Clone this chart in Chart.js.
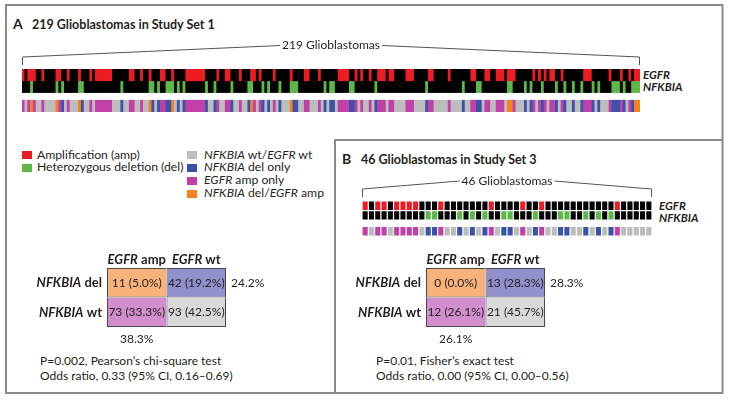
<!DOCTYPE html>
<html>
<head>
<meta charset="utf-8">
<script src="https://cdn.jsdelivr.net/npm/chart.js@4.4.0/dist/chart.umd.min.js"></script>
<style>
  body { margin: 0; background: #fff; font-family: Lato, sans-serif; }
  #page { position: relative; width: 729px; height: 400px; overflow: hidden; }
  canvas { position: absolute; }
  svg { position: absolute; left: 0; top: 0; }
  svg text { fill: #231f20; font-family: Lato, sans-serif; }
</style>
</head>
<body>
<div id="page">
<svg width="729" height="400">
  <rect x="6" y="5" width="716.5" height="388" fill="none" stroke="#8a8a8a" stroke-width="2"/>
  <path d="M335 393 V140 H722" fill="none" stroke="#8a8a8a" stroke-width="2"/>

  <text x="13" y="28.5" font-size="14" font-weight="700">A</text>
  <text x="32" y="28.5" font-size="12.5" font-weight="700">219 Glioblastomas in Study Set 1</text>
  <text x="342" y="163.5" font-size="14" font-weight="700">B</text>
  <text x="361" y="163.5" font-size="12.5" font-weight="700">46 Glioblastomas in Study Set 3</text>

  <g font-size="11.5" font-weight="700" font-style="italic">
    <text x="643" y="78.5">EGFR</text>
    <text x="643" y="91">NFKBIA</text>
    <text x="659" y="210">EGFR</text>
    <text x="659" y="221.7">NFKBIA</text>
  </g>

  <g font-size="12.2">
    <rect x="22" y="151" width="10" height="8" fill="#ed1c24"/>
    <text x="37" y="158.5">Amplification (amp)</text>
    <rect x="22" y="164" width="10" height="8" fill="#5cb947"/>
    <text x="37" y="171.3">Heterozygous deletion (del)</text>

    <rect x="187" y="151" width="10" height="8" fill="#bdbdbd"/>
    <text x="204" y="158.5"><tspan font-style="italic">NFKBIA</tspan> wt/<tspan font-style="italic">EGFR</tspan> wt</text>
    <rect x="187" y="164" width="10" height="8" fill="#3a53a8"/>
    <text x="204" y="171.3"><tspan font-style="italic">NFKBIA</tspan> del only</text>
    <rect x="187" y="177" width="10" height="8" fill="#c040a8"/>
    <text x="204" y="184.3"><tspan font-style="italic">EGFR</tspan> amp only</text>
    <rect x="187" y="190" width="10" height="8" fill="#f58220"/>
    <text x="204" y="197.3"><tspan font-style="italic">NFKBIA</tspan> del/<tspan font-style="italic">EGFR</tspan> amp</text>
  </g>
  <g font-size="12">
    <text x="40" y="365">P=0.002, Pearson’s chi-square test</text>
    <text x="40" y="380">Odds ratio, 0.33 (95% CI, 0.16–0.69)</text>
    <text x="376" y="365">P=0.01, Fisher’s exact test</text>
    <text x="376" y="380">Odds ratio, 0.00 (95% CI, 0.00–0.56)</text>
  </g>
</svg>
<canvas id="stripA" width="618" height="74" style="left:22px;top:38px"></canvas>
<canvas id="stripB" width="300" height="68" style="left:357px;top:173px"></canvas>
<canvas id="tableA" width="240" height="100" style="left:30px;top:248px"></canvas>
<canvas id="tableB" width="240" height="100" style="left:349px;top:248px"></canvas>
</div>

<script>
// Study set 1: 219 tumours, sample indices (0-based, left to right)
const nSamplesA = 219;
const egfrAmpA = [0, 2, 3, 4, 7, 12, 13, 16, 20, 24, 26, 27, 28, 29, 30, 31, 38, 39, 42, 45,
  49, 50, 53, 58, 59, 60, 61, 62, 63, 64, 69, 72, 73, 77, 81, 82, 84, 89, 95, 100, 101, 105,
  112, 113, 114, 115, 118, 120, 123, 126, 127, 128, 130, 131, 136, 137, 138, 144, 145, 151,
  159, 160, 164, 165, 168, 169, 170, 172, 173, 174, 181, 183, 185, 187, 188, 191, 199, 200,
  201, 208, 212, 215, 217, 218];
const nfkbiaDelA = [3, 12, 14, 20, 21, 35, 45, 46, 48, 51, 52, 53, 55, 57, 65, 68, 74, 80, 81,
  85, 87, 91, 95, 96, 97, 107, 109, 110, 116, 117, 125, 143, 156, 161, 162, 172, 173, 178,
  180, 184, 189, 192, 195, 198, 202, 204, 209, 210, 211, 213, 216, 217, 218];

// Study set 3: 46 tumours
const nSamplesB = 46;
const egfrAmpB = [0, 2, 3, 5, 6, 7, 8, 12, 20, 25, 28, 40];
const nfkbiaDelB = [10, 11, 15, 17, 19, 22, 23, 27, 31, 32, 35, 37, 39];
const starredB = [14, 21, 34, 45];

// 2x2 tables: rows NFKBIA del / wt, columns EGFR amp / wt
const tableCols = ['amp', 'wt'];
const tableRows = ['del', 'wt'];
const countsA = [[11, 42], [73, 93]];
const countsB = [[0, 13], [12, 21]];

const RED = '#ed1c24', GREEN = '#5cb947', BLACK = '#000';
const GRAY = '#bdbdbd', BLUE = '#3a53a8', MAGENTA = '#c040a8', ORANGE = '#f58220';
const CELL_COLORS = [['#f8b37c', '#8f90cc'], ['#d18dcd', '#d9d9d9']];
const INK = '#231f20';
const BOLD = '700 13px Lato', BOLD_IT = 'italic 700 13px Lato', PLAIN = '12px Lato';

// row bands on the strip's y axis
const ROW_EGFR = [2.65, 3.65], ROW_NFKBIA = [1.65, 2.65], ROW_COMBO = [0, 1];

function drawRuns(ctx, runs, x, y, align) {
  let total = 0;
  runs.forEach(r => { ctx.font = r[1]; total += ctx.measureText(r[0]).width; });
  let cx = align === 'right' ? x - total : align === 'center' ? x - total / 2 : x;
  ctx.textAlign = 'left';
  runs.forEach(r => {
    ctx.font = r[1];
    ctx.fillText(r[0], cx, y);
    cx += ctx.measureText(r[0]).width;
  });
}

const bracketPlugin = {
  id: 'bracket',
  afterDraw(chart, args, o) {
    const { ctx, chartArea: a } = chart;
    const x = chart.scales.x;
    const half = (x.getPixelForValue(1) - x.getPixelForValue(0)) / 2;
    const x0 = x.getPixelForValue(0) - half;
    const x1 = x.getPixelForValue(x.max) + half;
    const cx = (x0 + x1) / 2;
    const ty = a.top - o.textOffset;
    ctx.save();
    ctx.font = PLAIN;
    ctx.fillStyle = INK;
    ctx.textAlign = 'center';
    ctx.fillText(o.text, cx, ty);
    const w = ctx.measureText(o.text).width;
    ctx.strokeStyle = '#555';
    ctx.lineWidth = 1;
    ctx.beginPath();
    ctx.moveTo(x0 + 0.5, a.top - o.tickBottom);
    ctx.lineTo(x0 + 0.5, a.top - o.tickTop);
    ctx.lineTo(cx - w / 2 - 2, ty - 3.5);
    ctx.moveTo(cx + w / 2 + 2, ty - 3.5);
    ctx.lineTo(x1 - 0.5, a.top - o.tickTop);
    ctx.lineTo(x1 - 0.5, a.top - o.tickBottom);
    ctx.stroke();
    ctx.restore();
  }
};

function stripChart(id, n, amp, del, stars, opts) {
  const labels = Array.from({ length: n }, (_, i) => String(i + 1));
  const ampSet = new Set(amp), delSet = new Set(del);
  const egfrColors = labels.map((_, i) => ampSet.has(i) ? RED : BLACK);
  const nfkColors = labels.map((_, i) => delSet.has(i) ? GREEN : BLACK);
  const comboColors = labels.map((_, i) => {
    const a = ampSet.has(i), d = delSet.has(i);
    return a && d ? ORANGE : d ? BLUE : a ? MAGENTA : GRAY;
  });
  const band = r => labels.map(() => r);
  const barStyle = {
    grouped: false, barPercentage: 1, categoryPercentage: 1,
    borderWidth: opts.gap, borderColor: '#fff', borderSkipped: false,
    inflateAmount: opts.gap ? 0 : 'auto'
  };
  const datasets = [
    Object.assign({ data: band(ROW_EGFR), backgroundColor: egfrColors }, barStyle),
    Object.assign({ data: band(ROW_NFKBIA), backgroundColor: nfkColors }, barStyle),
    Object.assign({ data: band(ROW_COMBO), backgroundColor: comboColors }, barStyle)
  ];
  if (stars) {
    datasets.push({
      type: 'scatter', clip: false,
      data: stars.map(i => ({ x: labels[i], y: 4.2 })),
      pointStyle: 'star', radius: 3, borderColor: '#666', borderWidth: 1
    });
  }
  return new Chart(document.getElementById(id), {
    type: 'bar',
    data: { labels, datasets },
    options: {
      responsive: false, animation: false, devicePixelRatio: 1,
      layout: { padding: { top: opts.padTop } },
      plugins: { legend: { display: false }, tooltip: { enabled: false }, bracket: opts.bracket },
      scales: {
        x: { display: false, offset: true },
        y: { display: false, min: 0, max: 3.65 }
      }
    },
    plugins: [bracketPlugin]
  });
}

const tablePlugin = {
  id: 'tableText',
  afterDraw(chart, args, o) {
    const { ctx, chartArea: a } = chart;
    const x = chart.scales.x, y = chart.scales.y;
    const counts = o.counts;
    const total = counts.flat().reduce((s, v) => s + v, 0);
    const pct = counts.map(r => r.map(c => +(c / total * 100).toFixed(1)));
    ctx.save();
    ctx.fillStyle = INK;
    tableCols.forEach((c, j) => {
      drawRuns(ctx, [['EGFR', BOLD_IT], [' ' + c, BOLD]], x.getPixelForValue(j), a.top - 4.5, 'center');
    });
    tableRows.forEach((r, i) => {
      const yc = y.getPixelForValue(1.5 - i);
      drawRuns(ctx, [['NFKBIA', BOLD_IT], [' ' + r, BOLD]], a.left - 5, yc + 4.5, 'right');
      counts[i].forEach((c, j) => {
        drawRuns(ctx, [[c + ' (' + pct[i][j].toFixed(1) + '%)', PLAIN]], x.getPixelForValue(j), yc + 4, 'center');
      });
    });
    // marginal percentages: NFKBIA del row, EGFR amp column
    const rowM = (pct[0][0] + pct[0][1]).toFixed(1) + '%';
    const colM = (pct[0][0] + pct[1][0]).toFixed(1) + '%';
    drawRuns(ctx, [[rowM, PLAIN]], a.right + 5, y.getPixelForValue(1.5) + 4, 'left');
    drawRuns(ctx, [[colM, PLAIN]], x.getPixelForValue(0), a.bottom + 16, 'center');
    ctx.restore();
  }
};

function tableChart(id, counts) {
  const cellBorder = (i, j) => ({ top: i === 0 ? 1 : 0, left: 1, right: j === 1 ? 1 : 0, bottom: 1 });
  const datasets = tableRows.map((r, i) => ({
    label: 'NFKBIA ' + r,
    data: tableCols.map(() => i === 0 ? [1, 2] : [0, 1]),
    backgroundColor: CELL_COLORS[i],
    borderColor: '#4a4a4a',
    borderWidth: tableCols.map((c, j) => cellBorder(i, j)),
    borderSkipped: false,
    grouped: false, barPercentage: 1, categoryPercentage: 1, inflateAmount: 0
  }));
  return new Chart(document.getElementById(id), {
    type: 'bar',
    data: { labels: tableCols.map(c => 'EGFR ' + c), datasets },
    options: {
      responsive: false, animation: false, devicePixelRatio: 1,
      layout: { padding: { left: 77, right: 44, top: 20, bottom: 21 } },
      plugins: { legend: { display: false }, tooltip: { enabled: false }, tableText: { counts } },
      scales: {
        x: { display: false, offset: true },
        y: { display: false, min: 0, max: 2 }
      }
    },
    plugins: [tablePlugin]
  });
}

stripChart('stripA', nSamplesA, egfrAmpA, nfkbiaDelA, null, {
  padTop: 31, gap: 0,
  bracket: { text: '219 Glioblastomas', textOffset: 20, tickTop: 12, tickBottom: 4 }
});
stripChart('stripB', nSamplesB, egfrAmpB, nfkbiaDelB, starredB, {
  padTop: 28, gap: 0.6,
  bracket: { text: '46 Glioblastomas', textOffset: 16.5, tickTop: 12, tickBottom: 4 }
});
tableChart('tableA', countsA);
tableChart('tableB', countsB);
</script>
</body>
</html>
